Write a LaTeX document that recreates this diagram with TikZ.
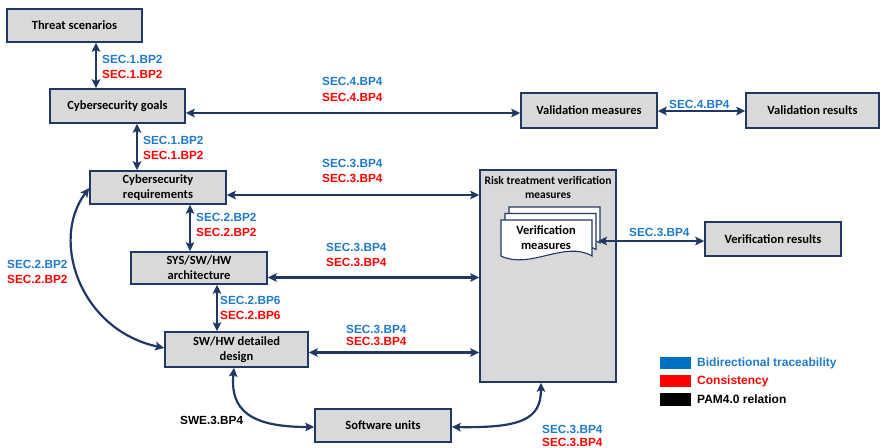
\documentclass[tikz,border=0pt]{standalone}
\usepackage{fontspec}
\setmainfont{Carlito}
\newfontfamily\arialf{Liberation Sans}
\usetikzlibrary{arrows.meta}
\definecolor{navy}{HTML}{203864}
\definecolor{boxgray}{HTML}{D9D9D9}
\definecolor{lblue}{HTML}{1F7BC9}
\definecolor{lred}{HTML}{FF0000}
\definecolor{legblue}{HTML}{0070C0}
\begin{document}
\begin{tikzpicture}[x=1pt,y=-1pt,
 box/.style={draw=navy, fill=boxgray, line width=1.5pt, inner sep=0pt, align=center, font=\fontsize{12.5}{15}\selectfont\bfseries},
 conn/.style={draw=navy, line width=2.2pt, {Stealth[length=9pt,width=8.5pt,inset=1.8pt]}-{Stealth[length=9pt,width=8.5pt,inset=1.8pt]}},
 lb/.style={inner sep=0pt, anchor=west, font=\arialf\bfseries\fontsize{11.8}{13}\selectfont, text=lblue},
 lr/.style={lb, text=lred},
 lk/.style={lb, text=black},
 leg/.style={inner sep=0pt, minimum width=31pt, minimum height=12.5pt}]
\useasboundingbox (0,0) rectangle (880,447);

% boxes
\node[box, minimum width=135pt, minimum height=33pt] (threat) at (74.5,25.5) {Threat scenarios};
\node[box, minimum width=135pt, minimum height=34pt] (goals) at (117.5,106) {Cybersecurity goals};
\node[box, minimum width=136pt, minimum height=33pt] (req) at (158,187.5) {Cybersecurity\\requirements};
\node[box, minimum width=136pt, minimum height=32pt] (arch) at (199,268) {SYS/SW/HW\\architecture};
\node[box, minimum width=143pt, minimum height=35pt] (design) at (236.5,349.5) {SW/HW detailed\\design};
\node[box, minimum width=136pt, minimum height=33pt] (units) at (383,425.5) {Software units};
\node[box, minimum width=136pt, minimum height=35pt] (valm) at (589,110.5) {Validation measures};
\node[box, minimum width=133pt, minimum height=35pt] (valr) at (812.5,110.5) {Validation results};
\node[box, minimum width=136pt, minimum height=34pt] (vres) at (773,239) {Verification results};
\node[box, minimum width=136pt, minimum height=212pt] (risk) at (548,276) {};
\node[inner sep=0pt, align=center, font=\fontsize{11.5}{14}\selectfont\bfseries] (risktitle) at (548,187) {Risk treatment verification\\measures};

% document stack
\foreach \dx/\dy in {8/-13, 4/-6.5, 0/0}
  \draw[navy, line width=1.1pt, fill=white, shift={(\dx,\dy)}]
    (501,256) -- (501,220) -- (592,220) -- (592,256)
    .. controls (565,240) and (530,270) .. (501,256) -- cycle;
\node[inner sep=0pt, align=center, font=\fontsize{12.5}{15}\selectfont\bfseries] (vmeas) at (546,237.5) {Verification\\measures};
\coordinate (vmR) at (598,241);

% connectors
\draw[conn] (threat.south -| 96,0) -- (goals.north -| 96,0);
\draw[conn] (goals.south -| 137,0) -- (req.north -| 137,0);
\draw[conn] (req.south -| 190,0) -- (arch.north -| 190,0);
\draw[conn] (arch.south -| 217,0) -- (design.north -| 217,0);
\draw[conn] (goals.east |- 0,113) -- (valm.west |- 0,113);
\draw[conn] (valm.east |- 0,111) -- (valr.west |- 0,111);
\draw[conn] (req.east |- 0,195) -- (risk.west |- 0,195);
\draw[conn] (arch.east |- 0,277.5) -- (risk.west |- 0,277.5);
\draw[conn] (design.east |- 0,352.5) -- (risk.west |- 0,352.5);
\draw[conn] (vmR) -- (vres.west |- vmR);
\draw[conn] (req.west |- 0,188) .. controls (50,240) and (80,330) .. (design.west |- 0,348);
\draw[conn] (design.south -| 234,0) .. controls (230,410) and (250,427) .. (units.west |- 0,427);
\draw[conn] (units.east |- 0,427) .. controls (520,428) and (541,420) .. (risk.south -| 541,0);

% labels
\node[lb] (l1b) at (102,59) {SEC.1.BP2};
\node[lr] (l1r) at (102,74) {SEC.1.BP2};
\node[lb] (l2b) at (143,140) {SEC.1.BP2};
\node[lr] (l2r) at (143,155) {SEC.1.BP2};
\node[lb] (l3b) at (322,81) {SEC.4.BP4};
\node[lr] (l3r) at (322,97) {SEC.4.BP4};
\node[lb] (l4b) at (322,163) {SEC.3.BP4};
\node[lr] (l4r) at (322,178) {SEC.3.BP4};
\node[lb] (l5b) at (196,217) {SEC.2.BP2};
\node[lr] (l5r) at (196,232) {SEC.2.BP2};
\node[lb] (l6b) at (326,247) {SEC.3.BP4};
\node[lr] (l6r) at (326,262) {SEC.3.BP4};
\node[lb] (l7b) at (220,300) {SEC.2.BP6};
\node[lr] (l7r) at (220,315) {SEC.2.BP6};
\node[lb] (l8b) at (346,329) {SEC.3.BP4};
\node[lr] (l8r) at (346,341) {SEC.3.BP4};
\node[lb] (l9b) at (7,264) {SEC.2.BP2};
\node[lr] (l9r) at (7,279) {SEC.2.BP2};
\node[lk] (l10) at (180,420) {SWE.3.BP4};
\node[lb] (l11b) at (542,429) {SEC.3.BP4};
\node[lr] (l11r) at (542,442) {SEC.3.BP4};
\node[lb] (l12b) at (629,232) {SEC.3.BP4};
\node[lb] (l13b) at (669,104) {SEC.4.BP4};

% legend
\node[leg, fill=legblue] (legb) at (675.5,363) {};
\node[leg, fill=lred] (legr) at (675.5,381) {};
\node[leg, fill=black] (legk) at (675.5,399.5) {};
\node[lb, font=\arialf\bfseries\fontsize{12}{14}\selectfont] (legbt) at (697,363) {Bidirectional traceability};
\node[lr, font=\arialf\bfseries\fontsize{12}{14}\selectfont] (legrt) at (697,381) {Consistency};
\node[lk, font=\arialf\bfseries\fontsize{12}{14}\selectfont] (legkt) at (697,399.5) {PAM4.0 relation};
\end{tikzpicture}
\end{document}
